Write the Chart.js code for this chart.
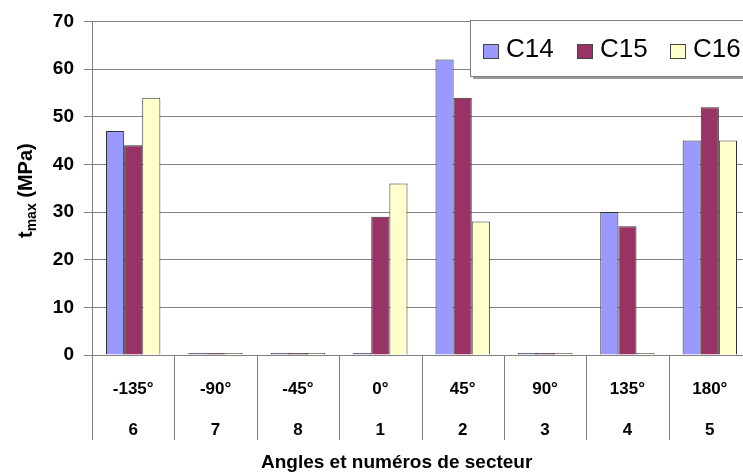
<!DOCTYPE html>
<html>
<head>
<meta charset="utf-8">
<script src="https://cdn.jsdelivr.net/npm/chart.js@4/dist/chart.umd.min.js"></script>
<style>
  html, body { margin: 0; padding: 0; background: #fff; overflow: hidden; }
  #wrap { width: 754px; height: 474px; position: relative; }
</style>
</head>
<body>
<div id="wrap"><canvas id="myChart"></canvas></div>
<script>
var angles = ["-135°", "-90°", "-45°", "0°", "45°", "90°", "135°", "180°"];
var sectors = ["6", "7", "8", "1", "2", "3", "4", "5"];
var c14 = [47, 0.4, 0.4, 0.4, 62, 0.4, 30, 45];
var c15 = [44, 0.4, 0.4, 29, 54, 0.4, 27, 52];
var c16 = [54, 0.4, 0.4, 36, 28, 0.4, 0.4, 45];
var seriesNames = ["C14", "C15", "C16"];
var barColors = ["#9999ff", "#993366", "#ffffcc"];

var xLabels = angles.map(function (a, i) { return [a, sectors[i]] })
var FONT = "'Liberation Sans', Arial, sans-serif"

// legend box and axis titles drawn on the canvas
var extras = {
  id: "extras",
  afterDraw: function (chart) {
    var ctx = chart.ctx
    var area = chart.chartArea
    var xs = chart.scales.x
    ctx.save()

    // separators under the axis
    ctx.strokeStyle = "#808080"
    ctx.lineWidth = 1
    for (var i = 0; i <= angles.length; i++) {
      var px = Math.round(xs.getPixelForValue(i - 0.5)) + 0.5
      ctx.beginPath()
      ctx.moveTo(px, area.bottom)
      ctx.lineTo(px, area.bottom + 85)
      ctx.stroke()
    }

    // x title
    ctx.fillStyle = "#000"
    ctx.font = "bold 19px " + FONT
    ctx.textAlign = "left"
    ctx.textBaseline = "alphabetic"
    ctx.fillText("Angles et numéros de secteur", 261, 468)

    // y title with subscript
    ctx.translate(32, 238)
    ctx.rotate(-Math.PI / 2)
    ctx.font = "bold 20px " + FONT
    ctx.fillText("t", 0, 0)
    var w = ctx.measureText("t").width
    ctx.font = "bold 14px " + FONT
    ctx.fillText("max", w, 4)
    w += ctx.measureText("max").width
    ctx.font = "bold 20px " + FONT
    ctx.fillText(" (MPa)", w, 0)
    ctx.setTransform(1, 0, 0, 1, 0, 0)

    // legend
    ctx.fillStyle = "#9a9a9a"
    ctx.fillRect(473, 23, 300, 56)
    ctx.fillStyle = "#fff"
    ctx.fillRect(470, 20, 300, 56)
    ctx.strokeStyle = "#808080"
    ctx.strokeRect(470.5, 20.5, 300, 56)
    var lx = [483, 577, 670]
    ctx.font = "26px " + FONT
    ctx.textBaseline = "middle"
    chart.data.datasets.forEach(function (ds, k) {
      ctx.fillStyle = ds.backgroundColor
      ctx.fillRect(lx[k], 44, 16, 15)
      ctx.strokeStyle = "#444"
      ctx.strokeRect(lx[k] + 0.5, 44.5, 15, 14)
      ctx.fillStyle = "#000"
      ctx.fillText(ds.label, lx[k] + 23, 50)
    })
    ctx.restore()
  }
}

new Chart("myChart", {
  type: "bar",
  data: {
    labels: xLabels,
    datasets: [
      { label: seriesNames[0], data: c14, backgroundColor: barColors[0] },
      { label: seriesNames[1], data: c15, backgroundColor: barColors[1] },
      { label: seriesNames[2], data: c16, backgroundColor: barColors[2] }
    ]
  },
  options: {
    responsive: true,
    maintainAspectRatio: false,
    animation: false,
    layout: { padding: { top: 18, right: 3, left: 0, bottom: 0 } },
    datasets: {
      bar: {
        categoryPercentage: 0.66,
        barPercentage: 1,
        borderColor: "#333",
        borderWidth: 1
      }
    },
    plugins: {
      legend: { display: false },
      tooltip: { enabled: false }
    },
    scales: {
      x: {
        grid: { display: false },
        border: { display: false },
        ticks: {
          color: "#000",
          padding: 6,
          font: { family: FONT, size: 17, weight: "bold", lineHeight: 2.41 },
          maxRotation: 0
        },
        afterFit: function (scale) { scale.height = 119 }
      },
      y: {
        min: 0,
        max: 70,
        ticks: {
          stepSize: 10,
          color: "#000",
          padding: 10,
          font: { family: FONT, size: 19, weight: "bold" }
        },
        grid: { color: "#808080", tickLength: 8, lineWidth: 1 },
        border: { color: "#808080" },
        afterFit: function (scale) { scale.width = 92 }
      }
    }
  },
  plugins: [extras]
});
</script>
</body>
</html>
